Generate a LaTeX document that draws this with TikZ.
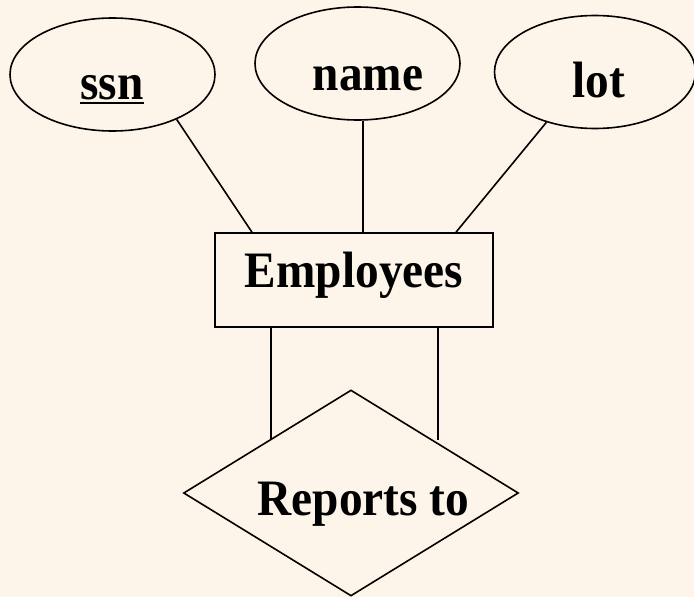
\documentclass[tikz,border=0pt]{standalone}
\usepackage{fontspec}
\setmainfont{Liberation Serif}
\usetikzlibrary{shapes.geometric}
\definecolor{bgpeach}{RGB}{253,245,233}
\newcommand{\tallbox}[1]{\scalebox{1}[1.08]{#1}}
\tikzset{
  ln/.style={line width=1.6pt, black},
  attr/.style={draw, ln, ellipse, inner sep=0pt, minimum width=205pt, minimum height=113pt},
  lbl/.style={inner sep=0pt, anchor=base, font=\bfseries\fontsize{47.3}{50}\selectfont},
  entity/.style={draw, ln, rectangle, inner sep=0pt, minimum width=278pt, minimum height=94pt},
  rel/.style={draw, ln, diamond, inner sep=0pt, aspect=1.626, minimum width=335pt, minimum height=206pt}
}
\begin{document}
\begin{tikzpicture}[x=1pt, y=-1pt]
  \fill[bgpeach] (0,0) rectangle (694,597);
  \useasboundingbox (0,0) rectangle (694,597);
  % attributes
  \node[attr] (ssn) at (112.5,74.5) {};
  \node[attr] (name) at (357.5,63.5) {};
  \node[attr, minimum width=201pt] (lot) at (595,72) {};
  \node[lbl] (ssnt) at (112,99) {\tallbox{ssn}};
  \draw[line width=2.2pt] ([yshift=-4pt]ssnt.base west) -- ([yshift=-4pt]ssnt.base east);
  \node[lbl] (namet) at (368,90.7) {\tallbox{name}};
  \node[lbl] (lott) at (598.5,97) {\tallbox{lot}};
  % entity
  \node[entity] (emp) at (354,280) {};
  \node[lbl] (empt) at (354,287) {\tallbox{Employees}};
  % relationship
  \node[rel] (rep) at (351,493) {};
  \node[lbl] (rept) at (363.5,515) {\tallbox{Reports to}};
  % connectors
  \draw[ln] (ssn.-35) -- ([xshift=-102pt]emp.north);
  \draw[ln] ([xshift=5.5pt]name.south) -- ([xshift=9pt]emp.north);
  \draw[ln] (lot.226) -- ([xshift=102pt]emp.north);
  \coordinate (dl) at (271,439);
  \coordinate (dr) at (438,440);
  \draw[ln] (emp.south -| dl) -- (dl);
  \draw[ln] (emp.south -| dr) -- (dr);
\end{tikzpicture}
\end{document}
